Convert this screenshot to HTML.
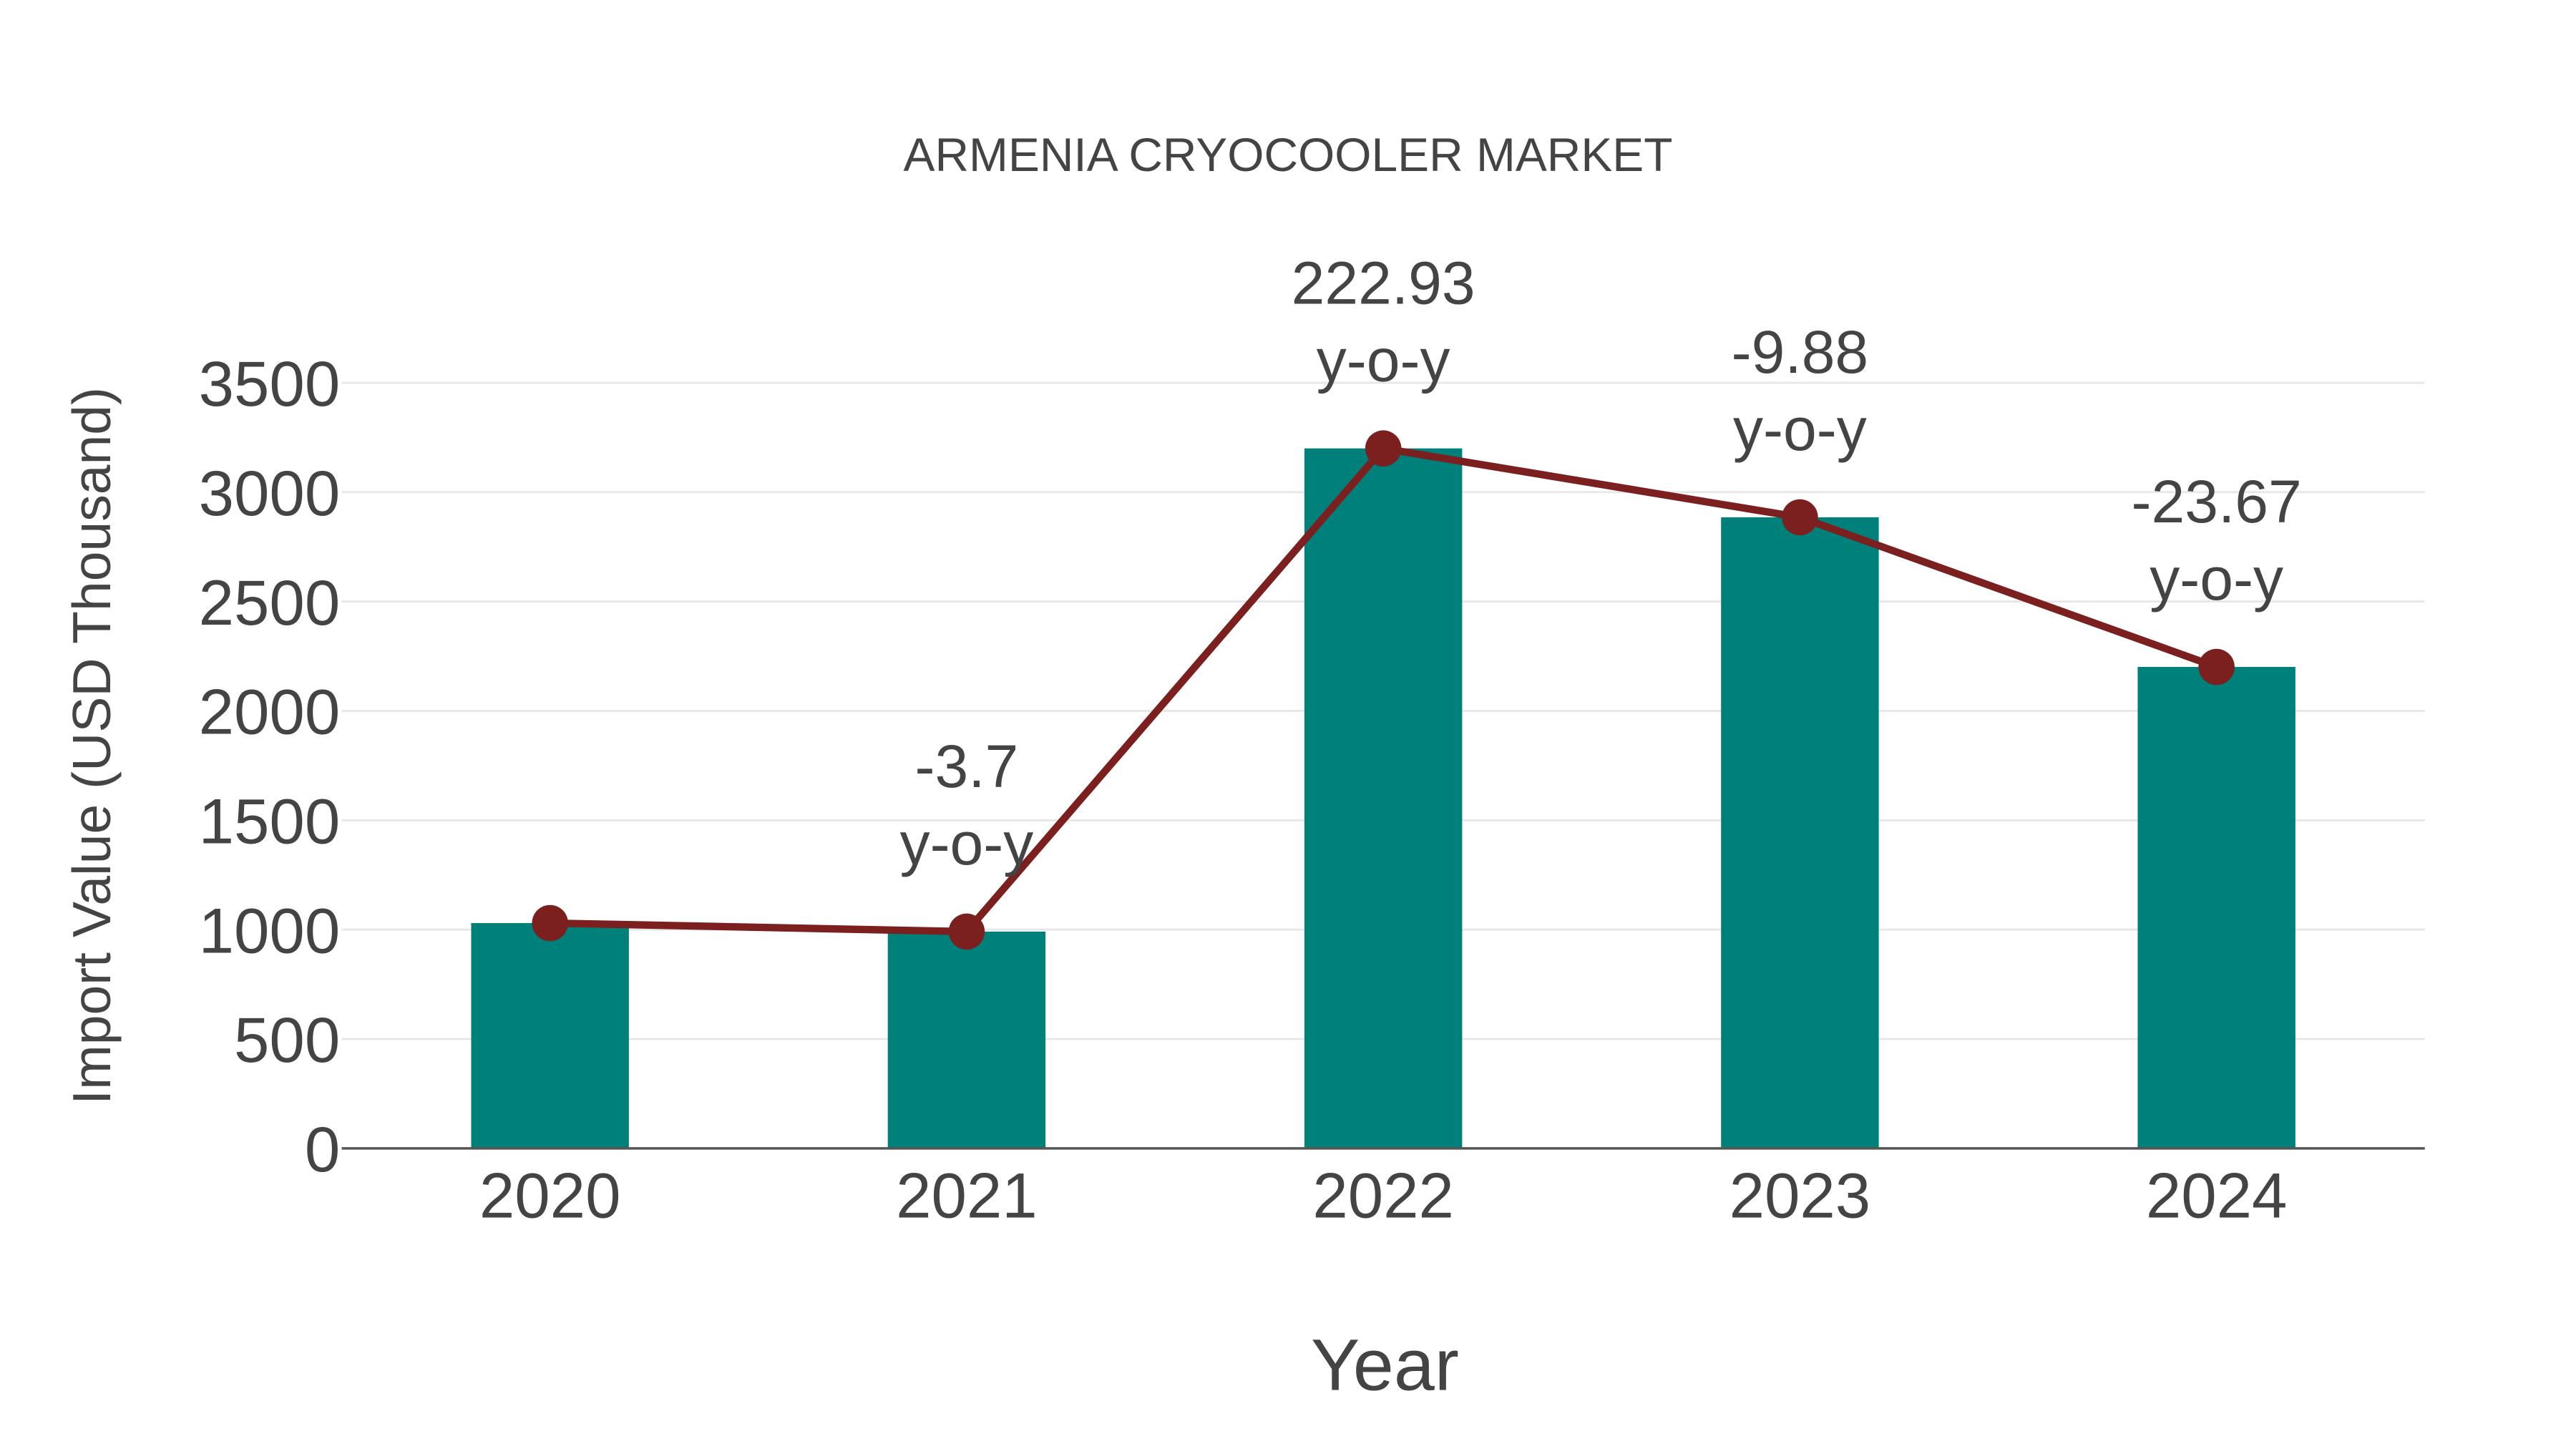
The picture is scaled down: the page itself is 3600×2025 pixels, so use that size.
<!DOCTYPE html>
<html><head><meta charset="utf-8">
<style>
html,body{margin:0;padding:0;background:#fff;}
svg{display:block;font-family:"Liberation Sans",sans-serif;}
</style></head>
<body>
<svg id="chart" width="3600" height="2025" viewBox="0 0 1568 882" preserveAspectRatio="none" xmlns="http://www.w3.org/2000/svg">
<text x="784" y="104" text-anchor="middle" font-size="28.7" fill="#444">ARMENIA CRYOCOOLER MARKET</text>
<g id="grid"></g>
<g id="yticks"></g>
<g id="bars"></g>
<line x1="208" x2="1476" y1="699" y2="699" stroke="#555" stroke-width="1.5"/>
<g id="xticks"></g>
<g id="line"></g>
<g id="ann"></g>
<text x="843" y="846" text-anchor="middle" font-size="44.6" fill="#444">Year</text>
<text transform="translate(67,454) rotate(-90)" text-anchor="middle" font-size="32.7" fill="#444">Import Value (USD Thousand)</text>
</svg>
<script>
const categories = ["2020","2021","2022","2023","2024"];
const values = [1030, 991, 3200, 2885, 2201];
const yoyLabels = ["", "-3.7", "222.93", "-9.88", "-23.67"];
const yTicks = [0,500,1000,1500,2000,2500,3000,3500];

const NS="http://www.w3.org/2000/svg";
const x0=208, x1=1476, yBase=699, yTop=233, yMax=3500;
const step=(x1-x0)/categories.length;
function xScale(i){return x0+step*(i+0.5);}
function yScale(v){return yBase-(yBase-yTop)*v/yMax;}
function mk(tag,attrs,parent){const e=document.createElementNS(NS,tag);for(const k in attrs)e.setAttribute(k,attrs[k]);parent.appendChild(e);return e;}

const grid=document.getElementById('grid'), yt=document.getElementById('yticks');
yTicks.forEach(t=>{
  if(t>0){const l=mk('line',{x1:x0,x2:x1,y1:yScale(t),y2:yScale(t),stroke:'#e6e6e6','stroke-width':1.2},grid);
  
  }
  const tx=mk('text',{x:207,y:yScale(t)+14,'text-anchor':'end','font-size':38.7,fill:'#444'},yt);
  tx.textContent=t;
  
  
});
const bars=document.getElementById('bars'), xt=document.getElementById('xticks');
const bw=96;
categories.forEach((c,i)=>{
  const r=mk('rect',{x:xScale(i)-bw/2,y:yScale(values[i]),width:bw,height:yBase-yScale(values[i]),fill:'#00807b'},bars);
  
  
  const t=mk('text',{x:xScale(i),y:741,'text-anchor':'middle','font-size':38.7,fill:'#444'},xt);
  t.textContent=c;
  
  
});
const lg=document.getElementById('line');
const pts=values.map((v,i)=>xScale(i)+','+yScale(v)).join(' ');
const pl=mk('polyline',{points:pts,fill:'none',stroke:'#7b1f1f','stroke-width':4.5},lg);


values.forEach((v,i)=>{
  const c=mk('circle',{cx:xScale(i),cy:yScale(v),r:11,fill:'#7b1f1f'},lg);
  
  
});
const ann=document.getElementById('ann');
yoyLabels.forEach((s,i)=>{
  if(!s)return;
  const y=yScale(values[i]);
  const a=mk('text',{x:xScale(i),y:y-88,'text-anchor':'middle','font-size':36.6,fill:'#444'},ann);
  a.textContent=s;
  
  
  const b=mk('text',{x:xScale(i),y:y-41,'text-anchor':'middle','font-size':36.6,fill:'#444'},ann);
  b.textContent='y-o-y';
  
  
});
</script>
</body></html>
